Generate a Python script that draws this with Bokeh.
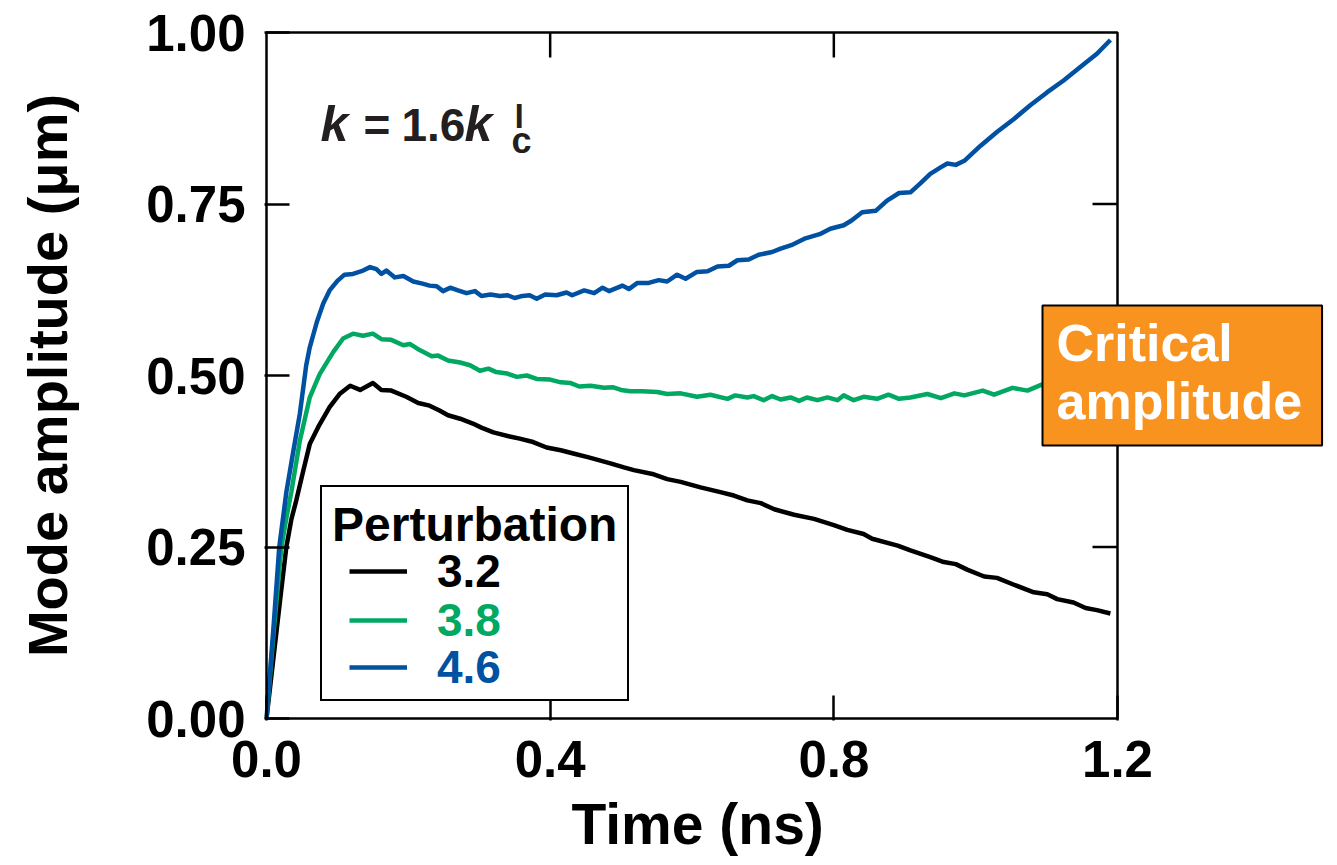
from bokeh.plotting import figure
from bokeh.models import (Range1d, FixedTicker, NumeralTickFormatter, Label, Legend,
                          LegendItem, BoxAnnotation, Title)
from bokeh.embed import file_html
from bokeh.resources import INLINE

# ---------------- data ----------------
t_32 = [0.000, 0.010, 0.020, 0.028, 0.035, 0.042, 0.052, 0.061, 0.073, 0.089, 0.103,
        0.118, 0.132, 0.150, 0.162, 0.176, 0.197, 0.214, 0.230, 0.244, 0.256, 0.273,
        0.291, 0.303, 0.320, 0.343, 0.357, 0.376, 0.395, 0.415, 0.434, 0.453, 0.485,
        0.504, 0.518, 0.546, 0.565, 0.584, 0.612, 0.640, 0.659, 0.678, 0.697, 0.716,
        0.744, 0.772, 0.800, 0.819, 0.842, 0.854, 0.890, 0.908, 0.937, 0.955, 0.972,
        0.988, 1.012, 1.030, 1.054, 1.082, 1.101, 1.115, 1.138, 1.155, 1.171, 1.190]
amp_32 = [0.000, 0.090, 0.180, 0.250, 0.290, 0.318, 0.362, 0.400, 0.425, 0.454, 0.473,
          0.485, 0.479, 0.489, 0.479, 0.478, 0.469, 0.460, 0.456, 0.449, 0.442, 0.437,
          0.430, 0.424, 0.417, 0.411, 0.408, 0.403, 0.395, 0.391, 0.386, 0.381, 0.372,
          0.366, 0.362, 0.356, 0.349, 0.345, 0.337, 0.330, 0.325, 0.318, 0.314, 0.305,
          0.297, 0.291, 0.282, 0.275, 0.269, 0.262, 0.252, 0.245, 0.235, 0.228, 0.225,
          0.217, 0.207, 0.205, 0.195, 0.184, 0.181, 0.174, 0.169, 0.161, 0.158, 0.153]

t_38 = [0.000, 0.010, 0.021, 0.028, 0.035, 0.047, 0.061, 0.075, 0.094, 0.108, 0.122,
        0.136, 0.150, 0.162, 0.176, 0.193, 0.202, 0.216, 0.233, 0.242, 0.256, 0.273,
        0.287, 0.301, 0.313, 0.324, 0.339, 0.353, 0.367, 0.381, 0.400, 0.415, 0.429,
        0.441, 0.457, 0.476, 0.488, 0.500, 0.513, 0.530, 0.551, 0.565, 0.584, 0.607,
        0.626, 0.650, 0.661, 0.678, 0.687, 0.701, 0.713, 0.725, 0.739, 0.751, 0.762,
        0.777, 0.791, 0.805, 0.814, 0.828, 0.842, 0.861, 0.877, 0.892, 0.908, 0.932,
        0.951, 0.970, 0.984, 1.010, 1.026, 1.052, 1.073, 1.094, 1.100]
amp_38 = [0.000, 0.125, 0.250, 0.292, 0.330, 0.405, 0.468, 0.502, 0.534, 0.554, 0.561,
          0.558, 0.561, 0.553, 0.552, 0.544, 0.546, 0.537, 0.528, 0.529, 0.522, 0.519,
          0.515, 0.507, 0.510, 0.505, 0.503, 0.498, 0.500, 0.495, 0.494, 0.490, 0.489,
          0.484, 0.485, 0.482, 0.483, 0.479, 0.477, 0.477, 0.476, 0.473, 0.474, 0.469,
          0.472, 0.466, 0.471, 0.468, 0.470, 0.464, 0.470, 0.465, 0.468, 0.463, 0.468,
          0.464, 0.468, 0.464, 0.471, 0.464, 0.469, 0.466, 0.472, 0.466, 0.468, 0.473,
          0.467, 0.474, 0.471, 0.478, 0.472, 0.482, 0.478, 0.487, 0.489]

t_46 = [0.000, 0.010, 0.018, 0.028, 0.038, 0.047, 0.056, 0.061, 0.071, 0.080, 0.089,
        0.100, 0.110, 0.122, 0.134, 0.146, 0.155, 0.162, 0.169, 0.181, 0.193, 0.207,
        0.220, 0.230, 0.240, 0.249, 0.259, 0.270, 0.282, 0.294, 0.303, 0.316, 0.329,
        0.340, 0.350, 0.361, 0.371, 0.381, 0.393, 0.409, 0.423, 0.431, 0.448, 0.462,
        0.474, 0.483, 0.502, 0.511, 0.523, 0.539, 0.553, 0.565, 0.579, 0.591, 0.607,
        0.622, 0.636, 0.652, 0.664, 0.680, 0.694, 0.713, 0.725, 0.740, 0.760, 0.780,
        0.795, 0.814, 0.825, 0.840, 0.859, 0.875, 0.892, 0.908, 0.922, 0.936, 0.950,
        0.960, 0.972, 0.984, 1.007, 1.030, 1.054, 1.077, 1.101, 1.124, 1.148, 1.171, 1.190]
amp_46 = [0.000, 0.135, 0.250, 0.330, 0.391, 0.444, 0.515, 0.541, 0.578, 0.605, 0.624,
          0.638, 0.647, 0.648, 0.652, 0.658, 0.655, 0.648, 0.653, 0.643, 0.645, 0.637,
          0.634, 0.631, 0.630, 0.623, 0.628, 0.624, 0.620, 0.623, 0.616, 0.618, 0.616,
          0.617, 0.613, 0.616, 0.617, 0.612, 0.618, 0.617, 0.621, 0.617, 0.624, 0.620,
          0.628, 0.623, 0.631, 0.626, 0.635, 0.635, 0.639, 0.637, 0.647, 0.641, 0.651,
          0.652, 0.659, 0.660, 0.668, 0.669, 0.676, 0.680, 0.685, 0.690, 0.700, 0.706,
          0.714, 0.719, 0.726, 0.738, 0.740, 0.755, 0.766, 0.767, 0.780, 0.794, 0.803,
          0.809, 0.807, 0.813, 0.835, 0.855, 0.874, 0.894, 0.913, 0.930, 0.950, 0.969, 0.989]

series_labels = ["3.2", "3.8", "4.6"]
x_ticks = [0.0, 0.4, 0.8, 1.2]
y_ticks = [0.0, 0.25, 0.5, 0.75, 1.0]
X_MIN, X_MAX, Y_MIN, Y_MAX = 0.0, 1.2, 0.0, 1.0

# ---------------- layout / style ----------------
FONT = "Liberation Sans"
BLACK, GREEN, BLUE, ORANGE = "#000000", "#00A862", "#0051A2", "#F7931E"
W, H = 1334, 865
PX_L, PX_R, PX_T, PX_B = 266, 1117, 32, 718     # where the data box lies (px)
FL, FR, FT, FB = 264, 1330, 30, 720             # bokeh frame (px), a bit larger
KX = (X_MAX - X_MIN) / (PX_R - PX_L)
KY = (Y_MAX - Y_MIN) / (PX_B - PX_T)
TICK = 25


def sx(px):   # canvas pixel x -> data x (annotation placement)
    return X_MIN + (px - PX_L) * KX


def sy(py):   # canvas pixel y -> data y
    return Y_MIN + (PX_B - py) * KY


p = figure(width=W, height=H,
           x_range=Range1d(sx(FL), sx(FR)), y_range=Range1d(sy(FB), sy(FT)),
           output_backend="svg", toolbar_location=None,
           min_border_left=FL, min_border_top=FT, min_border_right=W - FR,
           min_border_bottom=H - FB)
p.grid.visible = False
p.outline_line_color = None
p.background_fill_color = "white"
p.border_fill_color = "white"

p.xaxis.ticker = FixedTicker(ticks=x_ticks)
p.xaxis.formatter = NumeralTickFormatter(format="0.0")
p.yaxis.ticker = FixedTicker(ticks=y_ticks)
p.yaxis.formatter = NumeralTickFormatter(format="0.00")
p.yaxis.axis_label = "Mode amplitude (\u03bcm)"

for ax in (p.xaxis[0], p.yaxis[0]):
    ax.axis_line_color = None
    ax.major_tick_line_width = 2.5
    ax.major_tick_in = TICK
    ax.major_tick_out = 0
    ax.minor_tick_line_color = None
    ax.major_label_text_font = FONT
    ax.major_label_text_font_style = "bold"
    ax.major_label_text_font_size = "51px"
    ax.major_label_text_color = "black"
    ax.axis_label_text_font = FONT
    ax.axis_label_text_font_style = "bold"
    ax.axis_label_text_font_size = "56px"
    ax.axis_label_text_color = "black"
p.yaxis.major_label_standoff = 19
p.xaxis.major_label_standoff = 20
p.yaxis.axis_label_standoff = 64

# x axis title (placed as a below title so it can be positioned like the original)
p.add_layout(Title(text="Time (ns)", align="left", offset=307, standoff=20,
                   text_font=FONT, text_font_size="57px", text_font_style="bold",
                   text_color="black"), "below")

# frame box around the data area
p.add_layout(BoxAnnotation(left=X_MIN, right=X_MAX, bottom=Y_MIN, top=Y_MAX,
                           fill_alpha=0, line_color="black", line_alpha=1.0,
                           line_width=2.5))

# mirrored inward ticks on the top and right edges
top_ticks = x_ticks[1:-1]
right_ticks = y_ticks[1:-1]
p.segment(x0=top_ticks, y0=[Y_MAX] * len(top_ticks), x1=top_ticks,
          y1=[Y_MAX - TICK * KY] * len(top_ticks), line_color="black", line_width=2.5)
p.segment(x0=[X_MAX] * len(right_ticks), y0=right_ticks,
          x1=[X_MAX - TICK * KX] * len(right_ticks), y1=right_ticks,
          line_color="black", line_width=2.5)

# ---------------- curves ----------------
r32 = p.line(t_32, amp_32, line_color=BLACK, line_width=4.5, line_join="round")
r38 = p.line(t_38, amp_38, line_color=GREEN, line_width=4.5, line_join="round")
r46 = p.line(t_46, amp_46, line_color=BLUE, line_width=4.5, line_join="round")

# ---------------- legend ----------------
dummy = p.line(x=[], y=[], line_alpha=0)
box = Legend(items=[LegendItem(label=" ", renderers=[dummy]) for _ in range(3)],
             location=(56, 19), title="Perturbation", title_text_font=FONT,
             title_text_font_size="48px", title_text_font_style="bold",
             title_text_color="black", title_standoff=5, padding=10, margin=0,
             spacing=0, glyph_width=20, glyph_height=44, label_height=44,
             label_text_font_size="10px", border_line_color="black",
             border_line_alpha=1.0, border_line_width=2,
             background_fill_color="white", background_fill_alpha=1.0)
p.add_layout(box)

for lab, r, col, ybot in zip(series_labels, (r32, r38, r46), (BLACK, GREEN, BLUE),
                             (122, 73, 26)):
    lg = Legend(items=[LegendItem(label=lab, renderers=[r])], location=(85, ybot),
                padding=0, margin=0, spacing=0, glyph_width=58, glyph_height=48,
                label_standoff=30, label_height=48, label_text_font=FONT,
                label_text_font_size="46px", label_text_font_style="bold",
                label_text_color=col, border_line_color=None,
                background_fill_alpha=0.0)
    p.add_layout(lg)

# ---------------- annotation k = 1.6 k_c^l ----------------
common = dict(text_font=FONT, text_color="#231f20", text_baseline="middle",
              text_align="left")
p.add_layout(Label(x=sx(320), y=sy(123), text="k", text_font_size="50px",
                   text_font_style="bold italic", **common))
p.add_layout(Label(x=sx(363), y=sy(124), text="=", text_font_size="46px",
                   text_font_style="bold", **common))
p.add_layout(Label(x=sx(401), y=sy(124), text="1.6", text_font_size="46px",
                   text_font_style="bold", **common))
p.add_layout(Label(x=sx(464), y=sy(123), text="k", text_font_size="50px",
                   text_font_style="bold italic", **common))
p.add_layout(Label(x=sx(514), y=sy(115), text="l", text_font_size="34px",
                   text_font_style="bold", **common))
p.add_layout(Label(x=sx(511), y=sy(140), text="c", text_font_size="36px",
                   text_font_style="bold", **common))

# ---------------- critical amplitude box ----------------
p.add_layout(Label(x=sx(1042), y=sy(305), text="Critical\namplitude",
                   text_font=FONT, text_font_size="52px", text_font_style="bold",
                   text_color="white", text_align="left", text_baseline="top",
                   text_line_height=1.0, background_fill_color=ORANGE,
                   background_fill_alpha=1.0, border_line_color="black",
                   border_line_width=2,
                   padding=dict(left=14, right=20, top=8, bottom=16)))

open("out.html", "w").write(file_html(p, INLINE))
